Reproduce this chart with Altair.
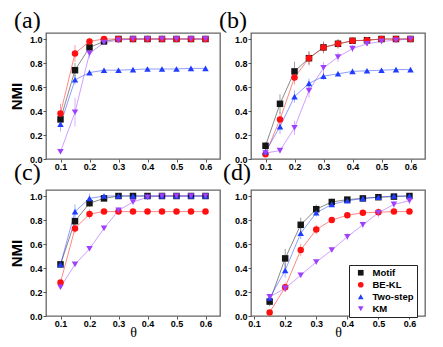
import altair as alt
import pandas as pd

series = ["Motif", "BE-KL", "Two-step", "KM"]
colors = ["#151515", "#ff1010", "#1f3cff", "#a040ff"]
shapes = ["square", "circle", "triangle-up", "triangle-down"]

theta_abc = [0.1, 0.15, 0.2, 0.25, 0.3, 0.35, 0.4, 0.45, 0.5, 0.55, 0.6]
theta_d = [0.15, 0.2, 0.25, 0.3, 0.35, 0.4, 0.45, 0.5, 0.55, 0.6]
x_ticks = [0.1, 0.2, 0.3, 0.4, 0.5, 0.6]
y_ticks = [0.0, 0.2, 0.4, 0.6, 0.8, 1.0]

# Panel (a)
a_motif = [0.33, 0.74, 0.93, 0.98, 1.0, 1.0, 1.0, 1.0, 1.0, 1.0, 1.0]
a_motif_err = [0.05, 0.06, 0.03, 0.02, 0.01, 0, 0, 0, 0, 0, 0]
a_bekl = [0.38, 0.88, 0.98, 1.0, 1.0, 1.0, 1.0, 1.0, 1.0, 1.0, 1.0]
a_bekl_err = [0.08, 0.07, 0.03, 0.01, 0, 0, 0, 0, 0, 0, 0]
a_two = [0.29, 0.66, 0.72, 0.74, 0.74, 0.745, 0.75, 0.75, 0.75, 0.755, 0.755]
a_two_err = [0.06, 0.04, 0.02, 0.01, 0.01, 0.01, 0.01, 0.01, 0.01, 0.01, 0.01]
a_km = [0.06, 0.39, 0.88, 0.97, 0.99, 1.0, 1.0, 1.0, 1.0, 1.0, 1.0]
a_km_err = [0.02, 0.12, 0.04, 0.02, 0.02, 0.01, 0.01, 0.01, 0.01, 0.01, 0.01]

# Panel (b)
b_motif = [0.11, 0.46, 0.73, 0.84, 0.93, 0.96, 0.985, 0.99, 1.0, 1.0, 1.0]
b_motif_err = [0.03, 0.08, 0.08, 0.06, 0.05, 0.04, 0.02, 0.01, 0.01, 0, 0]
b_bekl = [0.04, 0.33, 0.68, 0.84, 0.93, 0.96, 0.985, 0.99, 1.0, 1.0, 1.0]
b_bekl_err = [0.02, 0.06, 0.06, 0.05, 0.04, 0.03, 0.02, 0.01, 0.01, 0, 0]
b_two = [0.06, 0.27, 0.52, 0.63, 0.69, 0.71, 0.73, 0.735, 0.74, 0.745, 0.745]
b_two_err = [0.02, 0.06, 0.05, 0.04, 0.03, 0.02, 0.01, 0.01, 0.01, 0.01, 0.01]
b_km = [0.05, 0.07, 0.26, 0.57, 0.76, 0.85, 0.92, 0.96, 0.98, 0.99, 1.0]
b_km_err = [0.01, 0.02, 0.06, 0.06, 0.05, 0.04, 0.03, 0.02, 0.02, 0.01, 0.01]

# Panel (c)
c_motif = [0.43, 0.79, 0.94, 0.98, 1.0, 1.0, 1.0, 1.0, 1.0, 1.0, 1.0]
c_motif_err = [0.01, 0.03, 0.03, 0.01, 0.01, 0, 0, 0, 0, 0, 0]
c_bekl = [0.28, 0.73, 0.85, 0.87, 0.87, 0.87, 0.87, 0.87, 0.87, 0.87, 0.87]
c_bekl_err = [0.01, 0.04, 0.04, 0.01, 0.01, 0.01, 0.01, 0.01, 0.01, 0.01, 0.01]
c_two = [0.43, 0.87, 0.98, 1.0, 1.0, 1.0, 1.0, 1.0, 1.0, 1.0, 1.0]
c_two_err = [0.01, 0.06, 0.04, 0.01, 0.01, 0, 0, 0, 0, 0, 0]
c_km = [0.24, 0.43, 0.56, 0.73, 0.88, 0.95, 0.99, 1.0, 1.0, 1.0, 1.0]
c_km_err = [0.01, 0.01, 0.01, 0.01, 0.03, 0.02, 0.02, 0.01, 0, 0, 0]

# Panel (d)
d_motif = [0.12, 0.48, 0.76, 0.89, 0.95, 0.97, 0.98, 0.99, 0.995, 1.0]
d_motif_err = [0.04, 0.08, 0.06, 0.04, 0.03, 0.02, 0.01, 0.01, 0.01, 0.01]
d_bekl = [0.03, 0.24, 0.55, 0.72, 0.80, 0.84, 0.86, 0.865, 0.87, 0.87]
d_bekl_err = [0.01, 0.04, 0.05, 0.04, 0.02, 0.01, 0.01, 0.01, 0.01, 0.01]
d_two = [0.15, 0.38, 0.69, 0.86, 0.93, 0.96, 0.98, 0.99, 1.0, 1.0]
d_two_err = [0.03, 0.06, 0.05, 0.03, 0.02, 0.01, 0.01, 0.01, 0.01, 0.01]
d_km = [0.16, 0.23, 0.34, 0.45, 0.55, 0.66, 0.76, 0.86, 0.93, 0.96]
d_km_err = [0.02, 0.03, 0.02, 0.02, 0.02, 0.03, 0.03, 0.04, 0.03, 0.03]


def build(xs, vals, errs):
    rows = []
    for s, ys, es in zip(series, vals, errs):
        for x, y, e in zip(xs, ys, es):
            rows.append({"theta": x, "nmi": y, "err": e, "series": s,
                         "lo": y - e, "hi": min(y + e, 1.04)})
    return pd.DataFrame(rows)


df_a = build(theta_abc, [a_motif, a_bekl, a_two, a_km], [a_motif_err, a_bekl_err, a_two_err, a_km_err])
df_b = build(theta_abc, [b_motif, b_bekl, b_two, b_km], [b_motif_err, b_bekl_err, b_two_err, b_km_err])
df_c = build(theta_abc, [c_motif, c_bekl, c_two, c_km], [c_motif_err, c_bekl_err, c_two_err, c_km_err])
df_d = build(theta_d, [d_motif, d_bekl, d_two, d_km], [d_motif_err, d_bekl_err, d_two_err, d_km_err])

legend = alt.Legend(orient="none", legendX=303, legendY=232, title=None,
                    strokeColor="#222", fillColor="white", padding=3,
                    labelFont="Liberation Sans", labelFontWeight="bold",
                    labelFontSize=9.5, labelColor="black", symbolSize=32,
                    rowPadding=1, symbolStrokeWidth=0, labelOffset=7,
                    symbolOpacity=1, symbolOffset=4)

color_enc = alt.Color("series:N", scale=alt.Scale(domain=series, range=colors),
                      legend=legend, sort=series)
shape_enc = alt.Shape("series:N", scale=alt.Scale(domain=series, range=shapes),
                      legend=legend, sort=series)


def panel(df, label, domain, ytitle, xtitle, dx, toff):
    xaxis = alt.Axis(values=x_ticks, format=".1f", title=xtitle,
                     titleFont="Liberation Serif", titleFontSize=14,
                     titleFontWeight="normal", titlePadding=-3,
                     labelOverlap=False, labelPadding=0)
    yaxis = alt.Axis(values=y_ticks, format=".1f", title=ytitle,
                     titleFont="Liberation Sans", titleFontSize=15,
                     titleFontWeight="bold", titlePadding=5,
                     labelOverlap=False)
    xs = alt.Scale(domain=domain, nice=False, zero=False)
    ys = alt.Scale(domain=[0, 1.05], nice=False)
    x = alt.X("theta:Q", scale=xs, axis=xaxis)
    y = alt.Y("nmi:Q", scale=ys, axis=yaxis)
    ylo = alt.Y("lo:Q", scale=ys, axis=yaxis)
    base = alt.Chart(df)
    lines = base.mark_line(strokeWidth=1, opacity=0.5).encode(
        x=x, y=y, color=color_enc, detail="series:N")
    err = base.transform_filter("datum.err > 0").mark_rule(strokeWidth=0.8, opacity=0.5).encode(
        x=x, y=y, y2="hi:Q", color=color_enc)
    err_lo = base.transform_filter("datum.err > 0").mark_rule(strokeWidth=0.8, opacity=0.5).encode(
        x=x, y=ylo, y2="nmi:Q", color=color_enc)
    pts = base.mark_point(filled=True, size=42, opacity=1).encode(
        x=x, y=y, color=color_enc, shape=shape_enc)
    return alt.layer(lines, err, err_lo, pts).properties(
        width=174, height=126,
        title=alt.TitleParams(text=label, anchor="start", frame="group", dx=dx,
                              offset=toff, font="Liberation Serif", fontSize=24,
                              fontWeight="normal", color="black"))


pa = panel(df_a, "(a)", [0.05, 0.65], "NMI", None, -32, 0)
pb = panel(df_b, "(b)", [0.05, 0.65], None, None, -32, 0)
pc = panel(df_c, "(c)", [0.05, 0.65], "NMI", "θ", -32, 5)
pd_ = panel(df_d, "(d)", [0.09, 0.65], None, "θ", -28, 5)

chart = alt.concat(pa, pb, pc, pd_, columns=2, spacing=31, bounds="flush").properties(
    padding={"left": 0, "top": 0, "right": 2, "bottom": 0}
).configure_view(stroke="#666", strokeWidth=1.3).configure_axis(
    labelFont="Liberation Sans", labelFontWeight="bold", labelFontSize=9,
    labelColor="black", domain=False, grid=False, tickColor="#555", tickSize=3,
    labelPadding=1
)

chart.save("out.html", embed_options={"renderer": "svg", "actions": False})
